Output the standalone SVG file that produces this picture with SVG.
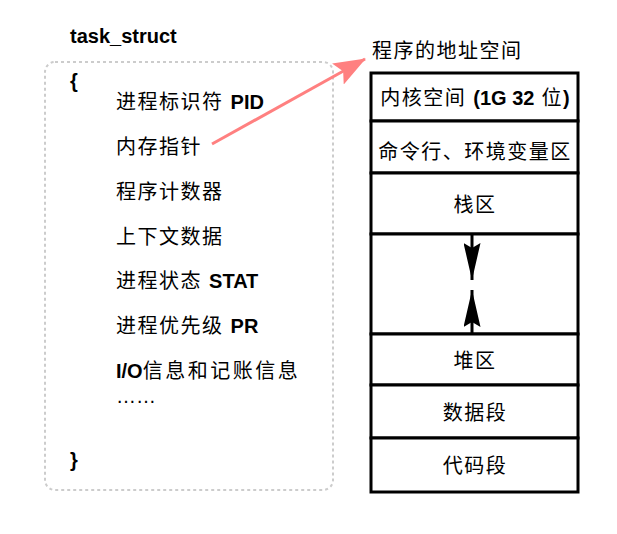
<svg xmlns="http://www.w3.org/2000/svg" width="617" height="534" viewBox="0 0 617 534">
<style>
text{font-family:"Liberation Sans","Noto Sans CJK SC",sans-serif;fill:#000}
.t{font-size:20px;letter-spacing:1.5px}
.b{font-weight:bold;letter-spacing:0}
.c{text-anchor:middle;font-size:20px;letter-spacing:1.5px}
.seg{fill:#fff;stroke:#000;stroke-width:3}
</style>
<defs>
<marker id="blk" viewBox="0 0 37 17" refX="37" refY="8.5" markerWidth="37" markerHeight="17" markerUnits="userSpaceOnUse" orient="auto">
<path d="M0,0 L37,8.5 L0,17 L5,8.5 Z" fill="#000"/>
</marker>
<marker id="pink" viewBox="0 0 32 24" refX="31" refY="12" markerWidth="32" markerHeight="24" markerUnits="userSpaceOnUse" orient="auto">
<path d="M0,0 L32,12 L0,24 L6,12 Z" fill="#ff8080"/>
</marker>
</defs>
<g id="task_struct">
<rect x="45" y="62" width="288" height="428" rx="10" fill="none" stroke="#cccccc" stroke-width="2" stroke-dasharray="3 3"/>
<text class="t b" x="70" y="43">task_struct</text>
<text class="t b" x="70" y="88">{</text>
<text class="t" x="116" y="109">进程标识符 <tspan class="b">PID</tspan></text>
<text class="t" x="116" y="154">内存指针</text>
<text class="t" x="116" y="199">程序计数器</text>
<text class="t" x="116" y="244">上下文数据</text>
<text class="t" x="116" y="288">进程状态 <tspan class="b">STAT</tspan></text>
<text class="t" x="116" y="333">进程优先级 <tspan class="b">PR</tspan></text>
<text class="t" x="116" y="378"><tspan class="b">I/O</tspan><tspan style="letter-spacing:2.5px">信息和记账信息</tspan></text>
<text class="t" x="116" y="403" style="letter-spacing:0">……</text>
<text class="t b" x="70" y="467">}</text>
</g>
<g id="address_space">
<text class="t" x="372" y="58">程序的地址空间</text>
<rect class="seg" x="371" y="73" width="207" height="48"/>
<rect class="seg" x="371" y="121" width="207" height="52"/>
<rect class="seg" x="371" y="173" width="207" height="61"/>
<rect class="seg" x="371" y="234" width="207" height="100"/>
<rect class="seg" x="371" y="334" width="207" height="51"/>
<rect class="seg" x="371" y="385" width="207" height="53"/>
<rect class="seg" x="371" y="438" width="207" height="54"/>
<text class="c" x="475" y="105">内核空间 <tspan class="b">(1G 32</tspan> 位<tspan class="b">)</tspan></text>
<text class="c" x="475" y="159">命令行、环境变量区</text>
<text class="c" x="475" y="212">栈区</text>
<text class="c" x="475" y="368">堆区</text>
<text class="c" x="475" y="420">数据段</text>
<text class="c" x="475" y="473">代码段</text>
</g>
<g id="connectors">
<line x1="472" y1="235" x2="472" y2="280" stroke="#000" stroke-width="3" marker-end="url(#blk)"/>
<line x1="472" y1="333" x2="472" y2="290" stroke="#000" stroke-width="3" marker-end="url(#blk)"/>
<line x1="212" y1="144" x2="365" y2="59" stroke="#ff8080" stroke-width="3" marker-end="url(#pink)"/>
</g>
</svg>
